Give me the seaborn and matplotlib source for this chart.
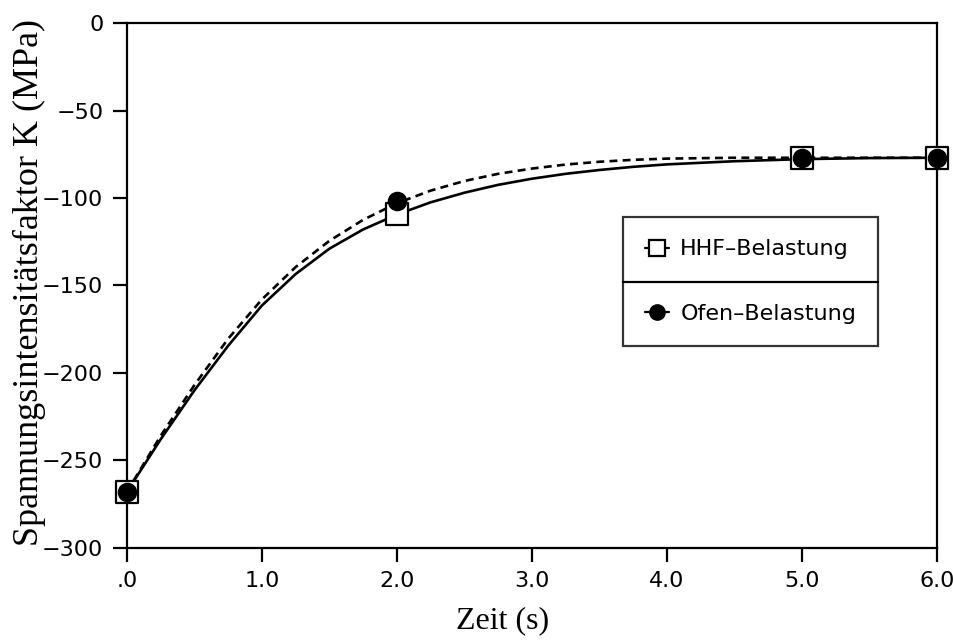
import matplotlib
matplotlib.use("Agg")
import matplotlib.pyplot as plt
import seaborn as sns
import pandas as pd
from matplotlib.lines import Line2D

# ---- data ----
t_points = [0.0, 2.0, 5.0, 6.0]
hhf_points = [-268, -109, -77, -77]
ofen_points = [-268, -102, -77, -77]

t_curve = [0.0, 0.25, 0.5, 0.75, 1.0, 1.25, 1.5, 1.75, 2.0, 2.25, 2.5, 2.75, 3.0,
           3.25, 3.5, 3.75, 4.0, 4.5, 5.0, 5.5, 6.0]
hhf_curve = [-268, -238, -210, -184.5, -161.5, -143.5, -129, -118, -109.5, -102.5, -97,
             -92.5, -89, -86.2, -84, -82.2, -80.8, -79, -77.8, -77.2, -77]
ofen_curve = [-268, -236, -207, -180.5, -158, -139.5, -124.5, -112.5, -103, -95.8, -90.3,
              -86.2, -83.2, -80.9, -79.3, -78.2, -77.5, -77, -77, -77, -77]

x_ticks = [0, 1, 2, 3, 4, 5, 6]
x_ticklabels = [".0", "1.0", "2.0", "3.0", "4.0", "5.0", "6.0"]
y_ticks = [0, -50, -100, -150, -200, -250, -300]
y_ticklabels = ["0", "\u221250", "\u2212100", "\u2212150", "\u2212200", "\u2212250", "\u2212300"]

sns.set_theme(style="ticks")
plt.rcParams.update({"text.color": "black", "axes.labelcolor": "black",
                     "xtick.color": "black", "ytick.color": "black"})
sans = ["Liberation Sans Narrow", "DejaVu Sans"]
serif = ["Liberation Serif", "DejaVu Serif"]

fig = plt.figure(figsize=(9.54, 6.4), dpi=100)
ax = fig.add_axes([0.133, 0.144, 0.849, 0.820])

curves = pd.DataFrame({"t": t_curve, "hhf": hhf_curve, "ofen": ofen_curve})
pts = pd.DataFrame({"t": t_points, "hhf": hhf_points, "ofen": ofen_points})

sns.lineplot(data=curves, x="t", y="hhf", ax=ax, color="black", lw=1.9, linestyle="-")
sns.lineplot(data=curves, x="t", y="ofen", ax=ax, color="black", lw=1.9, linestyle=(0, (3, 2)))
sns.scatterplot(data=pts, x="t", y="hhf", ax=ax, marker="s", s=250, facecolor="white",
                edgecolor="black", linewidth=1.6, zorder=4, clip_on=False)
sns.scatterplot(data=pts, x="t", y="ofen", ax=ax, marker="o", s=170, color="black",
                edgecolor="black", zorder=5, clip_on=False)

ax.set_xlim(0, 6)
ax.set_ylim(-300, 0)
ax.set_xticks(x_ticks)
ax.set_xticklabels(x_ticklabels, family=sans, fontsize=16, color="black")
ax.set_yticks(y_ticks)
ax.set_yticklabels(y_ticklabels, family=sans, fontsize=16, color="black")
ax.tick_params(axis="both", direction="out", length=10, width=1.6, color="black", pad=7)
for sp in ax.spines.values():
    sp.set_visible(True)
    sp.set_linewidth(1.6)
    sp.set_color("black")

ax.set_xlabel("Zeit (s)", family=serif, fontsize=23, color="black")
ax.xaxis.set_label_coords(0.464, -0.112)
ax.set_ylabel("Spannungsintensitätsfaktor K (MPa)", family=serif, fontsize=26, color="black")
ax.yaxis.set_label_coords(-0.100, 0.505)

handles = [
    Line2D([], [], color="black", lw=1.6, marker="s", markersize=11, markerfacecolor="white",
           markeredgecolor="black", markeredgewidth=1.6),
    Line2D([], [], color="black", lw=1.6, marker="o", markersize=11, markerfacecolor="black"),
]
leg = ax.legend(handles, ["HHF\u2013Belastung", "Ofen\u2013Belastung"], loc="upper left",
                bbox_to_anchor=(0.612, 0.630), frameon=True, fancybox=False, handlelength=1.1,
                handletextpad=0.5, labelspacing=2.0, borderpad=1.0, borderaxespad=0,
                prop={"family": sans, "size": 16})
leg.get_frame().set_edgecolor("black")
leg.get_frame().set_linewidth(1.6)
for txt in leg.get_texts():
    txt.set_color("black")

fig.canvas.draw()
bb = leg.get_window_extent().transformed(ax.transAxes.inverted())
ymid = (bb.y0 + bb.y1) / 2
ax.add_line(Line2D([bb.x0, bb.x1], [ymid, ymid], transform=ax.transAxes, color="black",
                   lw=1.6, zorder=10))

fig.savefig("out.png", dpi=100)
